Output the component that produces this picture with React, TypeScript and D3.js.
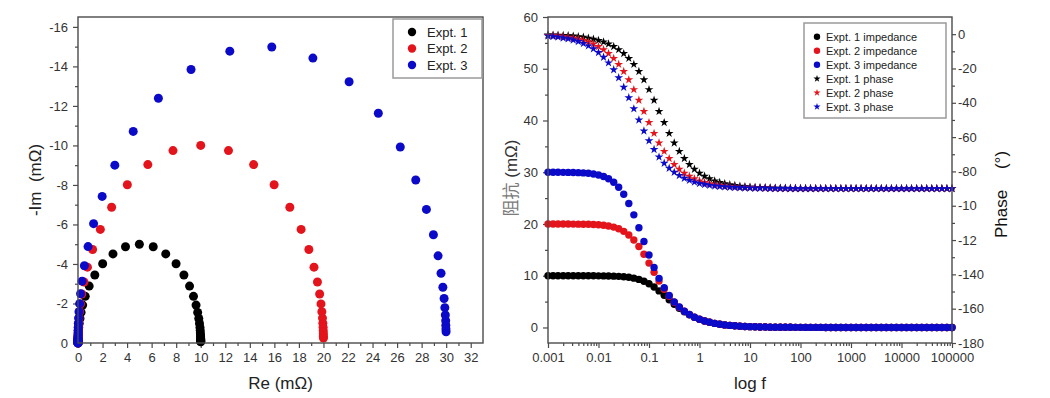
import { useEffect, useRef } from "react";
import * as d3 from "d3";

const WIDTH = 1050;
const HEIGHT = 398;
const FONT = "'Liberation Sans', Arial, Helvetica, sans-serif";
const CJK_FONT = "'Noto Sans CJK SC', sans-serif";
const FRAME = "#4a4a4a";
const TICK_TEXT = "#333";

const seriesNames = ["Expt. 1", "Expt. 2", "Expt. 3"];
const seriesColors = ["#000000", "#e3141b", "#0a0ac8"];

// Nyquist plot, [Re, Im] in mΩ
const nyquistExpt1: [number, number][] = [
  [10.0, -0.06], [10.0, -0.08], [10.0, -0.1], [10.0, -0.13], [10.0, -0.16], [10.0, -0.2], [9.99, -0.25], [9.99, -0.32], [9.98, -0.4], [9.97, -0.5],
  [9.96, -0.63], [9.94, -0.79], [9.9, -0.99], [9.84, -1.24], [9.75, -1.55], [9.62, -1.92], [9.41, -2.36], [9.09, -2.88], [8.63, -3.44], [7.99, -4.01],
  [7.15, -4.51], [6.13, -4.87], [5.0, -5.0], [3.87, -4.87], [2.85, -4.51], [2.01, -4.01], [1.37, -3.44], [0.91, -2.88], [0.59, -2.36], [0.38, -1.92],
  [0.25, -1.55], [0.16, -1.24], [0.1, -0.99], [0.06, -0.79], [0.04, -0.63], [0.03, -0.5], [0.02, -0.4], [0.01, -0.32], [0.01, -0.25], [0, -0.2],
  [0, -0.16], [0, -0.13], [0, -0.1], [0, -0.08], [0, -0.06], [0, -0.05], [0, -0.04], [0, -0.03], [0, -0.02], [0, -0.01], [0, 0]
];
const nyquistExpt2: [number, number][] = [
  [20.0, -0.25], [19.99, -0.32], [19.99, -0.4], [19.99, -0.5], [19.98, -0.63], [19.97, -0.8], [19.95, -1.0], [19.92, -1.26], [19.87, -1.58], [19.8, -1.98],
  [19.69, -2.48], [19.51, -3.09], [19.23, -3.84], [18.81, -4.73], [18.18, -5.75], [17.26, -6.87], [15.98, -8.01], [14.31, -9.03], [12.26, -9.74], [10.0, -10.0],
  [7.74, -9.74], [5.69, -9.03], [4.02, -8.01], [2.74, -6.87], [1.82, -5.75], [1.19, -4.73], [0.77, -3.84], [0.49, -3.09], [0.31, -2.48], [0.2, -1.98],
  [0.13, -1.58], [0.08, -1.26], [0.05, -1.0], [0.03, -0.8], [0.02, -0.63], [0.01, -0.5], [0.01, -0.4], [0.01, -0.32], [0, -0.25], [0, -0.2],
  [0, -0.16], [0, -0.13], [0, -0.1], [0, -0.08], [0, -0.06], [0, -0.05], [0, -0.04], [0, -0.03], [0, -0.02], [0, -0.01], [0, 0]
];
const nyquistExpt3: [number, number][] = [
  [29.99, -0.57], [29.98, -0.71], [29.97, -0.9], [29.96, -1.13], [29.93, -1.42], [29.89, -1.79], [29.83, -2.25], [29.73, -2.82], [29.58, -3.53], [29.34, -4.41],
  [28.96, -5.48], [28.39, -6.76], [27.52, -8.25], [26.26, -9.92], [24.47, -11.63], [22.09, -13.22], [19.14, -14.42], [15.79, -14.98], [12.37, -14.77], [9.21, -13.84],
  [6.55, -12.39], [4.5, -10.71], [3.0, -9.0], [1.97, -7.42], [1.27, -6.04], [0.82, -4.88], [0.52, -3.91], [0.33, -3.13], [0.21, -2.49], [0.13, -1.99],
  [0.08, -1.58], [0.05, -1.26], [0.03, -1.0], [0.02, -0.79], [0.01, -0.63], [0.01, -0.5], [0.01, -0.4], [0, -0.32], [0, -0.25], [0, -0.2],
  [0, -0.16], [0, -0.13], [0, -0.1], [0, -0.08], [0, -0.06], [0, -0.05], [0, -0.04], [0, -0.03], [0, -0.02], [0, -0.01], [0, 0]
];

const reTicks = [0, 2, 4, 6, 8, 10, 12, 14, 16, 18, 20, 22, 24, 26, 28, 30, 32];
const imTicks = [0, -2, -4, -6, -8, -10, -12, -14, -16];

// Bode plot
const freq = [
  0.001, 0.00126, 0.00158, 0.002, 0.00251, 0.00316, 0.00398, 0.00501, 0.00631, 0.00794,
  0.01, 0.0126, 0.0158, 0.02, 0.0251, 0.0316, 0.0398, 0.0501, 0.0631, 0.0794,
  0.1, 0.126, 0.158, 0.2, 0.251, 0.316, 0.398, 0.501, 0.631, 0.794,
  1, 1.26, 1.58, 2, 2.51, 3.16, 3.98, 5.01, 6.31, 7.94,
  10, 12.6, 15.8, 20, 25.1, 31.6, 39.8, 50.1, 63.1, 79.4,
  100, 126, 158, 200, 251, 316, 398, 501, 631, 794,
  1000, 1260, 1580, 2000, 2510, 3160, 3980, 5010, 6310, 7940,
  10000, 12600, 15800, 20000, 25100, 31600, 39800, 50100, 63100, 79400,
  100000
];

const impedanceExpt1 = [
  10.0, 10.0, 10.0, 10.0, 10.0, 10.0, 10.0, 9.99, 9.99, 9.99,
  9.98, 9.97, 9.95, 9.92, 9.88, 9.81, 9.7, 9.53, 9.29, 8.94,
  8.46, 7.83, 7.07, 6.22, 5.34, 4.48, 3.7, 3.02, 2.44, 1.96,
  1.57, 1.25, 1.0, 0.79, 0.63, 0.5, 0.4, 0.32, 0.25, 0.2,
  0.16, 0.13, 0.1, 0.08, 0.06, 0.05, 0.04, 0.03, 0.03, 0.02,
  0.02, 0.01, 0.01, 0.01, 0.01, 0, 0, 0, 0, 0,
  0, 0, 0, 0, 0, 0, 0, 0, 0, 0,
  0, 0, 0, 0, 0, 0, 0, 0, 0, 0,
  0
];
const impedanceExpt2 = [
  20.0, 20.0, 20.0, 19.99, 19.99, 19.98, 19.97, 19.96, 19.94, 19.9,
  19.84, 19.75, 19.61, 19.4, 19.07, 18.58, 17.88, 16.91, 15.66, 14.14,
  12.44, 10.67, 8.96, 7.4, 6.03, 4.87, 3.91, 3.13, 2.5, 1.99,
  1.58, 1.26, 1.0, 0.8, 0.63, 0.5, 0.4, 0.32, 0.25, 0.2,
  0.16, 0.13, 0.1, 0.08, 0.06, 0.05, 0.04, 0.03, 0.03, 0.02,
  0.02, 0.01, 0.01, 0.01, 0.01, 0, 0, 0, 0, 0,
  0, 0, 0, 0, 0, 0, 0, 0, 0, 0,
  0, 0, 0, 0, 0, 0, 0, 0, 0, 0,
  0
];
const impedanceExpt3 = [
  29.99, 29.99, 29.99, 29.98, 29.97, 29.95, 29.92, 29.87, 29.79, 29.67,
  29.48, 29.18, 28.74, 28.07, 27.1, 25.74, 23.96, 21.77, 19.26, 16.62,
  14.02, 11.61, 9.49, 7.68, 6.18, 4.94, 3.95, 3.15, 2.5, 1.99,
  1.58, 1.26, 1.0, 0.79, 0.63, 0.5, 0.4, 0.32, 0.25, 0.2,
  0.16, 0.13, 0.1, 0.08, 0.06, 0.05, 0.04, 0.03, 0.03, 0.02,
  0.02, 0.01, 0.01, 0.01, 0.01, 0, 0, 0, 0, 0,
  0, 0, 0, 0, 0, 0, 0, 0, 0, 0,
  0, 0, 0, 0, 0, 0, 0, 0, 0, 0,
  0
];

const phaseExpt1 = [
  -0.4, -0.5, -0.6, -0.7, -0.9, -1.1, -1.4, -1.8, -2.3, -2.9,
  -3.6, -4.5, -5.7, -7.2, -9.0, -11.3, -14.1, -17.6, -21.7, -26.6,
  -32.3, -38.5, -45.0, -51.5, -57.8, -63.4, -68.3, -72.5, -75.9, -78.7,
  -81.0, -82.8, -84.3, -85.5, -86.4, -87.1, -87.7, -88.2, -88.6, -88.9,
  -89.1, -89.3, -89.4, -89.5, -89.6, -89.7, -89.8, -89.8, -89.9, -89.9,
  -89.9, -89.9, -89.9, -90, -90, -90, -90, -90, -90, -90,
  -90, -90, -90, -90, -90, -90, -90, -90, -90, -90,
  -90, -90, -90, -90, -90, -90, -90, -90, -90, -90,
  -90
];
const phaseExpt2 = [
  -0.7, -0.9, -1.1, -1.4, -1.8, -2.3, -2.9, -3.6, -4.5, -5.7,
  -7.2, -9.0, -11.3, -14.1, -17.6, -21.7, -26.6, -32.3, -38.5, -45.0,
  -51.5, -57.8, -63.4, -68.3, -72.5, -75.9, -78.7, -81.0, -82.8, -84.3,
  -85.5, -86.4, -87.1, -87.7, -88.2, -88.6, -88.9, -89.1, -89.3, -89.4,
  -89.5, -89.6, -89.7, -89.8, -89.8, -89.9, -89.9, -89.9, -89.9, -89.9,
  -90, -90, -90, -90, -90, -90, -90, -90, -90, -90,
  -90, -90, -90, -90, -90, -90, -90, -90, -90, -90,
  -90, -90, -90, -90, -90, -90, -90, -90, -90, -90,
  -90
];
const phaseExpt3 = [
  -1.1, -1.4, -1.7, -2.2, -2.7, -3.4, -4.3, -5.4, -6.8, -8.5,
  -10.7, -13.4, -16.7, -20.7, -25.4, -30.9, -37.0, -43.5, -50.0, -56.4,
  -62.1, -67.2, -71.6, -75.2, -78.1, -80.5, -82.4, -84.0, -85.2, -86.2,
  -87.0, -87.6, -88.1, -88.5, -88.8, -89.0, -89.2, -89.4, -89.5, -89.6,
  -89.7, -89.8, -89.8, -89.8, -89.9, -89.9, -89.9, -89.9, -89.9, -89.9,
  -90, -90, -90, -90, -90, -90, -90, -90, -90, -90,
  -90, -90, -90, -90, -90, -90, -90, -90, -90, -90,
  -90, -90, -90, -90, -90, -90, -90, -90, -90, -90,
  -90
];

const freqTicks = [0.001, 0.01, 0.1, 1, 10, 100, 1000, 10000, 100000];
const freqTickLabels = ["0.001", "0.01", "0.1", "1", "10", "100", "1000", "10000", "100000"];
const impTicks = [0, 10, 20, 30, 40, 50, 60];
const phaseTicks = [0, -20, -40, -60, -80, -100, -120, -140, -160, -180];
// the -100 / -120 labels are cut off by the axis title in the original
const phaseTickLabels = ["0", "-20", "-40", "-60", "-80", "-10", "-12", "-140", "-160", "-180"];

const legendBode = [
  "Expt. 1 impedance",
  "Expt. 2 impedance",
  "Expt. 3 impedance",
  "Expt. 1 phase",
  "Expt. 2 phase",
  "Expt. 3 phase"
];

function styleAxis(g: any, fontSize = 13) {
  g.attr("font-family", FONT).attr("font-size", fontSize);
  g.select(".domain").remove();
  g.selectAll(".tick line").attr("stroke", FRAME).attr("stroke-width", 1.2);
  g.selectAll(".tick text").attr("fill", TICK_TEXT);
}

function drawNyquist(svg: any) {
  const left = 78;
  const right = 483;
  const top = 17;
  const bottom = 343;

  const x = d3.scaleLinear().domain([0, 33]).range([left, right]);
  const y = d3.scaleLinear().domain([0, -16.5]).range([bottom, top]);

  const g = svg.append("g");

  g.append("g")
    .attr("transform", `translate(0,${bottom})`)
    .call(d3.axisBottom(x).tickValues(d3.range(1, 33, 2)).tickSize(3).tickFormat(() => ""))
    .call(styleAxis);
  g.append("g")
    .attr("transform", `translate(0,${bottom})`)
    .call(d3.axisBottom(x).tickValues(reTicks).tickSize(5).tickPadding(5).tickFormat((d: any) => String(d)))
    .call(styleAxis);
  g.append("g")
    .attr("transform", `translate(${left},0)`)
    .call(d3.axisLeft(y).tickValues(d3.range(-1, -17, -2)).tickSize(3).tickFormat(() => ""))
    .call(styleAxis);
  g.append("g")
    .attr("transform", `translate(${left},0)`)
    .call(d3.axisLeft(y).tickValues(imTicks).tickSize(5).tickPadding(5).tickFormat((d: any) => String(d)))
    .call(styleAxis);

  [nyquistExpt1, nyquistExpt2, nyquistExpt3].forEach((pts, k) => {
    g.append("g")
      .selectAll("circle")
      .data(pts)
      .join("circle")
      .attr("cx", (d: [number, number]) => x(d[0]))
      .attr("cy", (d: [number, number]) => y(d[1]))
      .attr("r", 4.5)
      .attr("fill", seriesColors[k]);
  });

  g.append("rect")
    .attr("x", left)
    .attr("y", top)
    .attr("width", right - left)
    .attr("height", bottom - top)
    .attr("fill", "none")
    .attr("stroke", FRAME)
    .attr("stroke-width", 1.4);

  // legend
  const lg = g.append("g");
  lg.append("rect")
    .attr("x", 393)
    .attr("y", 19)
    .attr("width", 89)
    .attr("height", 59)
    .attr("fill", "#fff")
    .attr("stroke", "#9a9a9a")
    .attr("stroke-width", 1.5);
  seriesNames.forEach((name, k) => {
    const cy = 32 + k * 16.5;
    lg.append("circle").attr("cx", 412).attr("cy", cy).attr("r", 4.2).attr("fill", seriesColors[k]);
    lg.append("text")
      .attr("x", 427)
      .attr("y", cy + 4.6)
      .attr("font-family", FONT)
      .attr("font-size", 13)
      .attr("fill", "#222")
      .text(name);
  });

  g.append("text")
    .attr("x", (left + right) / 2)
    .attr("y", 389)
    .attr("text-anchor", "middle")
    .attr("font-family", FONT)
    .attr("font-size", 17)
    .attr("fill", "#222")
    .text("Re (mΩ)");
  g.append("text")
    .attr("transform", "translate(41,180) rotate(-90)")
    .attr("text-anchor", "middle")
    .attr("font-family", FONT)
    .attr("font-size", 17)
    .attr("fill", "#222")
    .attr("xml:space", "preserve")
    .style("white-space", "pre")
    .text("-Im  (mΩ)");
}

function drawBode(svg: any) {
  const left = 548;
  const right = 952;
  const top = 17;
  const bottom = 343;

  const x = d3.scaleLog().domain([0.001, 100000]).range([left, right]);
  const yImp = d3.scaleLinear().domain([-3, 60]).range([bottom, top]);
  const yPhase = d3.scaleLinear().domain([-180, 10]).range([bottom, top]);

  const g = svg.append("g");

  const freqMinor = d3.range(-3, 5).flatMap((e) => d3.range(2, 10).map((m) => m * Math.pow(10, e)));
  g.append("g")
    .attr("transform", `translate(0,${bottom})`)
    .call(d3.axisBottom(x).tickValues(freqMinor).tickSize(3).tickFormat(() => ""))
    .call(styleAxis);
  g.append("g")
    .attr("transform", `translate(0,${bottom})`)
    .call(
      d3.axisBottom(x)
        .tickValues(freqTicks)
        .tickSize(5)
        .tickPadding(5)
        .tickFormat((_: any, i: number) => freqTickLabels[i])
    )
    .call(styleAxis);

  g.append("g")
    .attr("transform", `translate(${left},0)`)
    .call(d3.axisLeft(yImp).tickValues(d3.range(5, 60, 10)).tickSize(3).tickFormat(() => ""))
    .call(styleAxis);
  g.append("g")
    .attr("transform", `translate(${left},0)`)
    .call(d3.axisLeft(yImp).tickValues(impTicks).tickSize(5).tickPadding(5).tickFormat((d: any) => String(d)))
    .call(styleAxis);

  g.append("g")
    .attr("transform", `translate(${right},0)`)
    .call(d3.axisRight(yPhase).tickValues(d3.range(-10, -180, -20)).tickSize(3).tickFormat(() => ""))
    .call(styleAxis);
  g.append("g")
    .attr("transform", `translate(${right},0)`)
    .call(
      d3.axisRight(yPhase)
        .tickValues(phaseTicks)
        .tickSize(4)
        .tickPadding(2)
        .tickFormat((_: any, i: number) => phaseTickLabels[i])
    )
    .call(styleAxis);

  const impedance = [impedanceExpt1, impedanceExpt2, impedanceExpt3];
  const phase = [phaseExpt1, phaseExpt2, phaseExpt3];

  impedance.forEach((vals, k) => {
    g.append("g")
      .selectAll("circle")
      .data(vals)
      .join("circle")
      .attr("cx", (_: number, i: number) => x(freq[i]))
      .attr("cy", (d: number) => yImp(d))
      .attr("r", 3.7)
      .attr("fill", seriesColors[k]);
  });

  const star = d3.symbol().type(d3.symbolStar).size(24)();
  phase.forEach((vals, k) => {
    g.append("g")
      .selectAll("path")
      .data(vals)
      .join("path")
      .attr("d", star)
      .attr("transform", (d: number, i: number) => `translate(${x(freq[i])},${yPhase(d)})`)
      .attr("fill", seriesColors[k]);
  });

  g.append("rect")
    .attr("x", left)
    .attr("y", top)
    .attr("width", right - left)
    .attr("height", bottom - top)
    .attr("fill", "none")
    .attr("stroke", FRAME)
    .attr("stroke-width", 1.4);

  // legend
  const lg = g.append("g");
  lg.append("rect")
    .attr("x", 804)
    .attr("y", 23)
    .attr("width", 142)
    .attr("height", 95)
    .attr("fill", "#fff")
    .attr("stroke", "#9a9a9a")
    .attr("stroke-width", 1.5);
  const smallStar = d3.symbol().type(d3.symbolStar).size(16)();
  legendBode.forEach((name, k) => {
    const cy = 36.7 + k * 14;
    const color = seriesColors[k % 3];
    if (k < 3) {
      lg.append("circle").attr("cx", 817).attr("cy", cy).attr("r", 3.2).attr("fill", color);
    } else {
      lg.append("path").attr("d", smallStar).attr("transform", `translate(817,${cy})`).attr("fill", color);
    }
    lg.append("text")
      .attr("x", 826)
      .attr("y", cy + 4)
      .attr("font-family", FONT)
      .attr("font-size", 11)
      .attr("fill", "#222")
      .text(name);
  });

  g.append("text")
    .attr("x", (left + right) / 2)
    .attr("y", 389)
    .attr("text-anchor", "middle")
    .attr("font-family", FONT)
    .attr("font-size", 17)
    .attr("fill", "#222")
    .text("log f");

  const yTitle = g.append("text")
    .attr("transform", "translate(517,178) rotate(-90)")
    .attr("text-anchor", "middle")
    .attr("font-size", 17);
  yTitle.append("tspan").attr("font-family", CJK_FONT).attr("fill", "#7a7a7a").text("阻抗");
  yTitle.append("tspan").attr("font-family", FONT).attr("fill", "#333").text(" (mΩ)");

  g.append("text")
    .attr("transform", "translate(1007,214) rotate(-90)")
    .attr("text-anchor", "middle")
    .attr("font-family", FONT)
    .attr("font-size", 17)
    .attr("fill", "#111")
    .text("Phase");
  g.append("text")
    .attr("transform", "translate(1007,160) rotate(-90)")
    .attr("text-anchor", "middle")
    .attr("font-family", FONT)
    .attr("font-size", 17)
    .attr("fill", "#111")
    .text("(°)");
}

export default function App() {
  const svgRef = useRef<SVGSVGElement | null>(null);

  useEffect(() => {
    const svg = d3.select(svgRef.current);
    svg.selectAll("*").remove();
    svg.append("rect").attr("width", WIDTH).attr("height", HEIGHT).attr("fill", "#fff");
    drawNyquist(svg);
    drawBode(svg);
  }, []);

  return (
    <svg
      ref={svgRef}
      width={WIDTH}
      height={HEIGHT}
      viewBox={`0 0 ${WIDTH} ${HEIGHT}`}
      style={{ position: "absolute", left: 0, top: 0, display: "block" }}
    />
  );
}
